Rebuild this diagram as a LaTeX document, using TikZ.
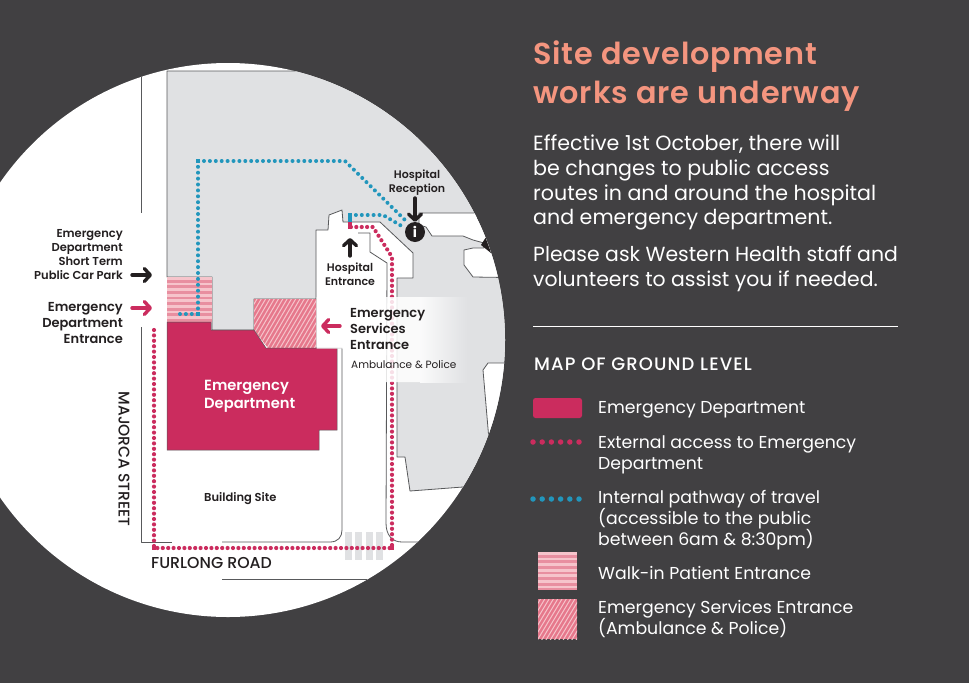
\documentclass[tikz,border=0pt]{standalone}
\usepackage{fontspec}
\setmainfont{Poppins}
\newfontfamily\medf{Poppins Medium}
\newfontfamily\semf{Poppins SemiBold}
\newfontfamily\semsp[LetterSpace=3]{Poppins SemiBold}
\newfontfamily\medsp[LetterSpace=6]{Poppins Medium}
\usetikzlibrary{arrows.meta}
\definecolor{bgdark}{HTML}{414042}
\definecolor{heading}{HTML}{F4957F}
\definecolor{edred}{HTML}{CB2C5E}
\definecolor{pathblue}{HTML}{2296BC}
\definecolor{mapgray}{HTML}{E0E1E3}
\definecolor{maplinec}{HTML}{58595B}
\definecolor{hatchbase}{HTML}{E6788C}
\definecolor{hatchbaseh}{HTML}{E88FA0}
\definecolor{hatchlight}{HTML}{F6C4CB}
\definecolor{inkc}{HTML}{231F20}
\newcommand{\fs}[2]{\fontsize{#1}{#2}\selectfont}
\tikzset{
  x=1pt,y=-1pt,
  mapline/.style={draw=maplinec,line width=0.8pt,line join=round},
  dotred/.style={draw=edred,line width=4.2pt,line cap=round,dash pattern=on 0pt off 5.4pt},
  dotblue/.style={draw=pathblue,line width=4pt,line cap=round,dash pattern=on 0pt off 5.9pt},
  legdotred/.style={draw=edred,line width=5.5pt,line cap=round,dash pattern=on 0pt off 9.2pt},
  legdotblue/.style={draw=pathblue,line width=5.5pt,line cap=round,dash pattern=on 0pt off 9.2pt},
  blackarrow/.style={draw=inkc,line width=3.4pt,line cap=round,-{Straight Barb[length=6pt,width=13pt,line cap=round,line join=round]}},
  redarrow/.style={draw=edred,line width=3.4pt,line cap=round,-{Straight Barb[length=6pt,width=13pt,line cap=round,line join=round]}},
  rt/.style={inner sep=0,anchor=north west,align=left,text=white},
  maplab/.style={inner sep=0,text=inkc},
  crossing/.style={fill=mapgray,draw=none},
}
\newcommand{\hatchH}[4]{%
  \begin{scope}
  \clip (#1,#2) rectangle (#3,#4);
  \fill[hatchbaseh] (#1,#2) rectangle (#3,#4);
  \foreach \k in {0,...,8} {\fill[hatchlight] (#1,#2+\k*5.6) rectangle (#3,#2+\k*5.6+2.8);}
  \end{scope}}
\begin{document}
\begin{tikzpicture}
\useasboundingbox (0,0) rectangle (969,683);
\fill[bgdark] (0,0) rectangle (969,683);
\begin{scope}
\clip (228,340) circle (277);
\fill[white] (-60,50) rectangle (520,630);
% grey block
\filldraw[fill=mapgray,mapline] (167,277) -- (167,71) -- (540,71) -- (540,480) -- (463,487) -- (410,491) -- (405,457) -- (397,457) -- (397,278) -- (413,278) -- (413,253) -- (380,222) -- (343,222) -- (342,210) -- (329,215) -- (328,230) -- (316,230) -- (316,299) -- (254,299) -- (254,330) -- (212,330) -- (212,277) -- cycle;
% white areas east
\filldraw[fill=white,mapline] (540,213) -- (419,213) -- (419,225) -- (426,227) -- (432,236) -- (463,236) -- (473,240) -- (484,243) -- (484,248) -- (473,248) -- (464,250) -- (464,265) -- (473,277) -- (540,278) -- cycle;
\filldraw[fill=white,mapline] (540,363) -- (488,363) -- (483,370) -- (489,440) -- (540,440) -- cycle;
\fill[inkc] (481,245) -- (486,237) -- (492,244) -- (491,253) -- cycle;
% road lines
\draw[mapline] (141,50) -- (141,213);
\draw[mapline] (141,327) -- (141,542) -- (172,542);
\draw[mapline] (222,542) -- (330,542) .. controls (338,542) and (342,537) .. (342,530) -- (342,348) -- (316,348) -- (316,299);
\draw[mapline] (358,233) -- (370,233) -- (370,252) -- (387,263) -- (386,523) .. controls (386,535) and (392,542) .. (402,542) -- (418,542);
\draw[mapline] (222,579) -- (367,579);
% crossing
\foreach \xa in {345,355,366,376} {\fill[crossing] (\xa,532) rectangle (\xa+7,560);}
% hatches
\hatchH{167}{277}{212}{322}
\begin{scope}
\clip (254,299) -- (316,299) -- (316,348) -- (268,348) -- (254,330) -- cycle;
\fill[hatchbase] (250,295) rectangle (320,350);
\foreach \k in {0,...,30} {\draw[hatchlight,line width=1pt] (220+\k*4.3,355) -- (220+\k*4.3+35,295);}
\end{scope}
% ED building
\filldraw[fill=edred,draw=maplinec,line width=0.5pt] (167,322) -- (211,322) -- (211,330) -- (254,330) -- (266,348) -- (337,348) -- (337,430) -- (319,430) -- (319,450) -- (167,450) -- cycle;
% paths
\coordinate (bA) at (180,314); \coordinate (bB) at (198,314); \coordinate (bC) at (198,161); \coordinate (bD) at (345,161); \coordinate (bE) at (407,222);
\coordinate (bF) at (350,215); \coordinate (bG) at (383,215); \coordinate (bH) at (405,228);
\coordinate (rA) at (350,227); \coordinate (rB) at (373,227); \coordinate (rC) at (392,257); \coordinate (rD) at (392,548); \coordinate (rE) at (154,548); \coordinate (rF) at (154,330);
\draw[dotblue] (bA) -- (bB) -- (bC) -- (bD) -- (bE);
\draw[dotblue] (bF) -- (bG) -- (bH);
\fill[pathblue] (196,312) rectangle (200,316);
\fill[pathblue] (196,159) rectangle (200,163);
\fill[pathblue] (348,213) rectangle (352,222);
\draw[dotred] (rF) -- (rE) -- (rD) -- (rC) -- (rB) -- (rA);
\fill[edred] (348,222) rectangle (352,229);
\fill[edred] (152,546) rectangle (156,550);
\fill[edred] (390,546) rectangle (394,550);
% fading label panel
\fill[white,opacity=.85] (316.5,297) -- (420,297) -- (420,382) -- (343,382) -- (343,348.5) -- (316.5,348.5) -- cycle;
\shade[left color=white!85!mapgray,right color=mapgray] (420,297) rectangle (467,382);
\end{scope}
% map labels
\node[maplab,anchor=north east,align=right,font=\semf\fs{11.5}{14}] (carpark) at (123,229) {Emergency\\Department\\Short Term\\Public Car Park};
\node[maplab,anchor=north east,align=right,font=\semf\fs{13}{16}] (edent) at (123,302) {Emergency\\Department\\Entrance};
\coordinate (cpA) at (132,275); \coordinate (cpB) at (152,275);
\draw[blackarrow] (cpA) -- (cpB);
\coordinate (eeA) at (132,308); \coordinate (eeB) at (152,308);
\draw[redarrow] (eeA) -- (eeB);
\node[maplab,anchor=north,align=center,font=\semf\fs{11}{14}] (recep) at (417,170) {Hospital\\Reception};
\node[draw=none,fill=inkc,circle,minimum size=20pt,inner sep=0,text=white,font=\bfseries\rmfamily\fs{14}{14}] (info) at (415,232) {i};
\coordinate (rcA) at (415,198);
\draw[blackarrow] (rcA) -- (info.north);
\node[maplab,anchor=north,align=center,font=\semf\fs{11}{14}] (hospent) at (350,263) {Hospital\\Entrance};
\coordinate (heB) at (350,238);
\draw[blackarrow] (hospent.north) ++(0,-7) -- (heB);
\node[maplab,anchor=north west,align=left,font=\semf\fs{13}{16}] (esent) at (350,308) {Emergency\\Services\\Entrance};
\node[maplab,anchor=north west,font=\fs{10.5}{12}] (amb) at (351,360) {Ambulance \& Police};
\coordinate (esB) at (321,326); \coordinate (esA) at (340,326);
\draw[redarrow] (esA) -- (esB);
\node[inner sep=0,anchor=north west,align=left,text=white,font=\semf\fs{14.7}{18}] (ed) at (204,380) {Emergency\\Department};
\node[maplab,anchor=north west,font=\semf\fs{11.5}{13}] (site) at (204,492) {Building Site};
\node[maplab,rotate=-90,font=\medf\fs{15.5}{15}] (maj) at (124,459) {MAJORCA STREET};
\node[maplab,anchor=north west,font=\medf\fs{15.8}{15}] (fur) at (151,557) {FURLONG ROAD};
% right column
\node[rt,text=heading,font=\semsp\fs{30.3}{39}] (head) at (533,41) {Site development\\works are underway};
\node[rt,font=\fs{20.6}{24.6}] (body1) at (533,135) {Effective 1st October, there will\\be changes to public access\\routes in and around the hospital\\and emergency department.};
\node[rt,font=\fs{20.4}{24.6}] (body2) at (533,246) {Please ask Western Health staff and\\volunteers to assist you if needed.};
\draw[white,line width=0.8pt] (533,326) -- (898,326);
\node[rt,font=\medsp\fs{18}{20}] (maptitle) at (534,358) {MAP OF GROUND LEVEL};
\fill[edred,rounded corners=2.5pt] (533,398) rectangle (582,418);
\node[rt,font=\fs{17.3}{21}] (l1) at (598,401) {Emergency Department};
\coordinate (ldrA) at (533,442); \coordinate (ldrB) at (582,442);
\draw[legdotred] (ldrA) -- (ldrB);
\node[rt,font=\fs{17.3}{21}] (l2) at (598,435) {External access to Emergency\\Department};
\coordinate (ldbA) at (533,499); \coordinate (ldbB) at (582,499);
\draw[legdotblue] (ldbA) -- (ldbB);
\node[rt,font=\fs{17.3}{21}] (l3) at (598,490) {Internal pathway of travel\\(accessible to the public\\between 6am \& 8:30pm)};
\hatchH{538}{552}{577}{590}
\node[rt,font=\fs{17.3}{21}] (l4) at (598,566) {Walk-in Patient Entrance};
\begin{scope}
\clip (538,599) rectangle (577,639);
\fill[hatchbase] (538,599) rectangle (577,639);
\foreach \k in {0,...,30} {\draw[hatchlight,line width=1pt] (500+\k*4.3,645) -- (500+\k*4.3+30,595);}
\end{scope}
\node[rt,font=\fs{17.3}{21}] (l5) at (598,600) {Emergency Services Entrance\\(Ambulance \& Police)};
\end{tikzpicture}
\end{document}
